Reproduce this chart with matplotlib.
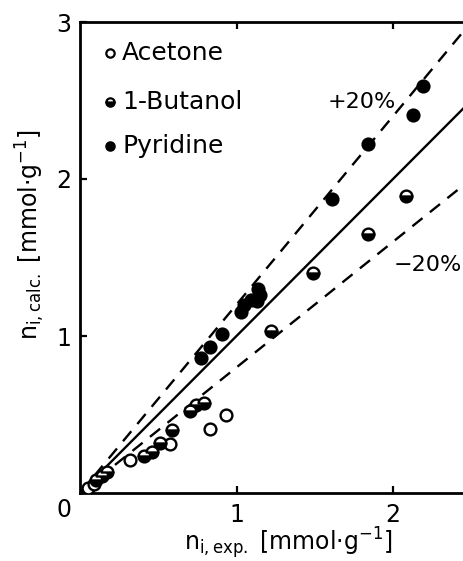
import matplotlib
matplotlib.use("Agg")
import matplotlib.pyplot as plt
import numpy as np

# Data
acetone_x = [0.05, 0.09, 0.32, 0.575, 0.83, 0.93]
acetone_y = [0.03, 0.06, 0.21, 0.31, 0.41, 0.50]

butanol_x = [0.10, 0.14, 0.17, 0.41, 0.46, 0.51, 0.59, 0.70, 0.74, 0.79, 1.22, 1.49, 1.84, 2.08]
butanol_y = [0.08, 0.11, 0.135, 0.235, 0.26, 0.32, 0.40, 0.52, 0.56, 0.575, 1.03, 1.40, 1.65, 1.89]

pyridine_x = [0.77, 0.83, 0.91, 1.03, 1.05, 1.09, 1.13, 1.14, 1.15, 1.61, 1.84, 2.13, 2.19]
pyridine_y = [0.86, 0.93, 1.01, 1.15, 1.20, 1.23, 1.22, 1.30, 1.26, 1.87, 2.22, 2.41, 2.59]

ratios = [1.0, 1.2, 0.8]
ratio_styles = ['-', '--', '--']

fig = plt.figure(figsize=(4.63, 5.61), dpi=100)
ax = fig.add_axes([80/463, 68/561, 383/463, 471/561])
xmax = 383/156.5
ax.set_xlim(0, xmax)
ax.set_ylim(0, 3)

xx = np.array([0, xmax])
for r, ls in zip(ratios, ratio_styles):
    if ls == '-':
        ax.plot(xx, r*xx, color='black', lw=1.7, ls='-', zorder=2)
    else:
        ax.plot(xx, r*xx, color='black', lw=1.7, ls=(0, (5.5, 4)), zorder=2)

ms = 8.5
ax.plot(acetone_x, acetone_y, 'o', ms=ms, mfc='white', mec='black', mew=1.7, ls='none', zorder=3)
ax.plot(butanol_x, butanol_y, 'o', ms=ms, mfc='black', mfcalt='white', fillstyle='bottom',
        mec='black', mew=1.7, ls='none', zorder=3)
ax.plot(pyridine_x, pyridine_y, 'o', ms=ms, mfc='black', mec='black', mew=1.7, ls='none', zorder=3)

# legend (manual)
lx = 0.19
ly = [2.80, 2.49, 2.21]
names = ['Acetone', '1-Butanol', 'Pyridine']
ax.plot([lx], [ly[0]], 'o', ms=6, mfc='white', mec='black', mew=1.6)
ax.plot([lx], [ly[1]], 'o', ms=6, mfc='black', mfcalt='white', fillstyle='bottom', mec='black', mew=1.6)
ax.plot([lx], [ly[2]], 'o', ms=6, mfc='black', mec='black', mew=1.6)
for y, n in zip(ly, names):
    ax.text(lx + 0.08, y, n, fontsize=18, va='center', ha='left')

ax.text(1.80, 2.49, '+20%', fontsize=16, ha='center', va='center')
ax.text(xmax - 0.01, 1.45, '\u221220%', fontsize=16, ha='right', va='center')

for s in ['left', 'bottom', 'top']:
    ax.spines[s].set_linewidth(2.0)
ax.spines['right'].set_visible(False)

ax.set_xticks([1, 2])
ax.set_yticks([1, 2, 3])
ax.set_xticklabels(['1', '2'])
ax.set_yticklabels(['1', '2', '3'])
ax.tick_params(direction='in', length=5, width=1.6, labelsize=17, top=True, pad=7)
ax.tick_params(axis='y', pad=6)
ax.text(-0.1, -0.11, '0', fontsize=17, ha='center', va='center', transform=ax.transData)

ax.set_xlabel(r'$\mathregular{n_{i,exp.}}$ [mmol$\cdot$g$^{-1}$]', fontsize=17)
ax.set_ylabel(r'$\mathregular{n_{i,calc.}}$ [mmol$\cdot$g$^{-1}$]', fontsize=17)
ax.xaxis.set_label_coords(0.545, -0.068)
ax.yaxis.set_label_coords(-0.085, 0.55)

fig.savefig('out.png', dpi=100)
